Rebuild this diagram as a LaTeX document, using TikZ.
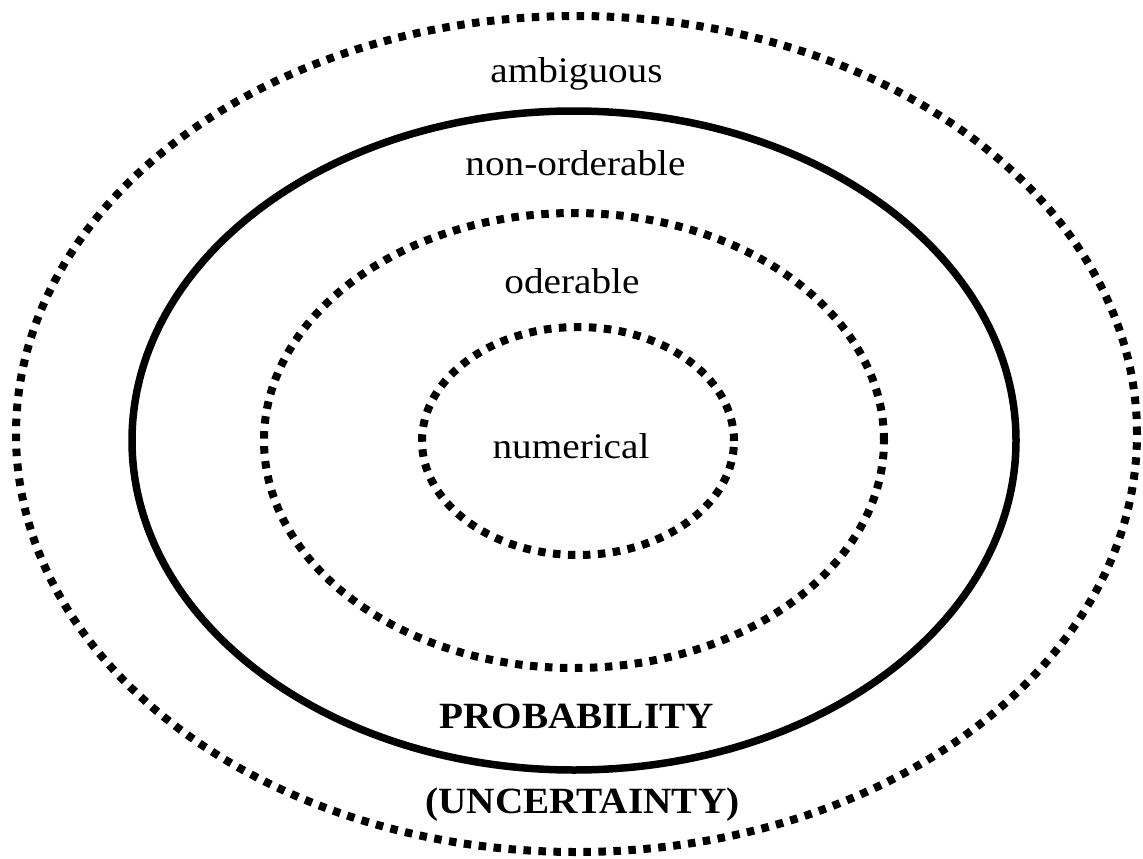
\documentclass[tikz,border=0pt]{standalone}
\usepackage{fontspec}
\setmainfont{Liberation Serif}
\begin{document}
\begin{tikzpicture}[x=1pt,y=-1pt,
  dotring/.style={draw=black, line width=8pt, dash pattern=on 7.5pt off 7.5pt},
  solidring/.style={draw=black, line width=7.5pt},
  lbl/.style={anchor=base, inner sep=0pt, font=\fontsize{36}{40}\selectfont, xscale=1.09},
  boldlbl/.style={anchor=base, inner sep=0pt, font=\bfseries\fontsize{37}{40}\selectfont, xscale=1.06}]
\useasboundingbox (0,0) rectangle (1143,859);
\draw[dotring] (576.5,434) ellipse [x radius=560.5pt, y radius=418pt];
\draw[solidring] (574,440.5) ellipse [x radius=442pt, y radius=329.5pt];
\draw[dotring] (574,440.5) ellipse [x radius=310pt, y radius=227.5pt];
\draw[dotring] (578,441) ellipse [x radius=156pt, y radius=114pt];
\node[lbl] (amb) at (576.5,82) {ambiguous};
\node[lbl] (nonord) at (575.5,175) {non-orderable};
\node[lbl] (ord) at (572,293) {oderable};
\node[lbl] (num) at (571,458) {numerical};
\node[boldlbl] (prob) at (576.5,728) {PROBABILITY};
\node[boldlbl] (unc) at (582.5,813) {(UNCERTAINTY)};
\end{tikzpicture}
\end{document}
